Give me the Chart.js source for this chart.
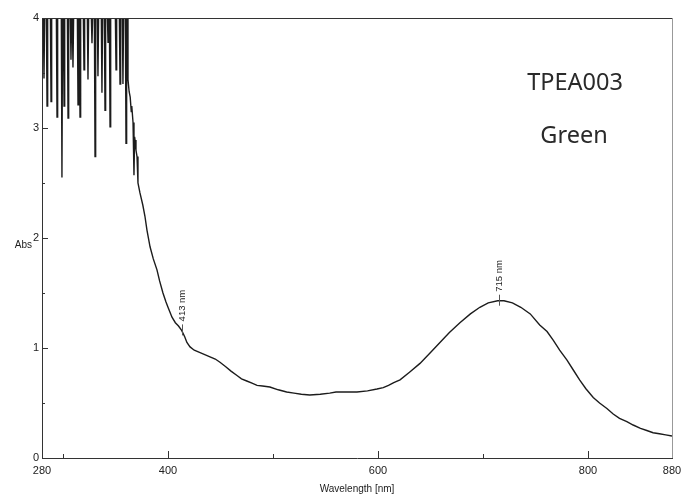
<!DOCTYPE html>
<html>
<head>
<meta charset="utf-8">
<title>TPEA003 Green</title>
<script src="https://cdn.jsdelivr.net/npm/chart.js@4.4.1/dist/chart.umd.min.js"></script>
<style>
  html, body { margin: 0; padding: 0; background: #fff; }
  canvas { display: block; }
</style>
</head>
<body>
<canvas id="specChart" width="683" height="495"></canvas>
<script>
// Absorbance spectrum (wavelength in nm, absorbance)
// 280-362 nm: detector saturated at 4, with dropouts
const wavelengthNm = [
  280, 281.3, 281.9, 282.5, 284.2, 284.8, 285.4, 288.0, 288.6, 289.2,
  293.7, 294.3, 294.9, 298.4, 299.0, 299.6, 300.4, 301.0, 301.6, 304.2,
  304.8, 305.4, 307.0, 307.6, 308.2, 308.9, 309.5, 310.1, 313.7, 314.3,
  314.9, 315.6, 316.2, 316.8, 319.4, 320.0, 320.6, 323.2, 323.8, 324.4,
  327.0, 327.6, 328.2, 329.9, 330.5, 331.1, 332.7, 333.3, 333.9, 336.5,
  337.1, 337.7, 339.4, 340.0, 340.6, 342.3, 342.9, 343.5, 344.2, 344.8,
  345.4, 349.9, 350.5, 351.1, 353.7, 354.3, 354.9, 356.5, 357.1, 357.7,
  359.4, 360.0, 360.6, 361.3, 361.9,
  363, 364, 365, 365.5, 366.7, 367.6, 368.2, 368.6, 369.5, 370.5,
  371.4, 373.3, 376, 378, 380, 382.9, 386, 389.5, 392, 395.2,
  398, 400, 403.8, 407, 410, 413, 416, 418, 421, 425,
  430, 435, 440, 445, 449.5, 455, 460, 465.7, 470, 475,
  480, 484.8, 490, 497, 505, 513, 520, 527, 535, 545,
  554, 560, 570, 580, 590, 599, 605, 610, 615, 621,
  630, 640, 650, 659, 668, 678, 688, 697, 705, 714,
  720, 728, 736, 745, 754, 761, 767, 773, 780, 786,
  792, 798, 805, 811, 818, 824, 830, 837, 843, 850,
  856, 862, 868, 874, 880
];
const absorbance = [
  4, 4, 3.45, 4, 4, 3.2, 4, 4, 3.24, 4,
  4, 3.1, 4, 4, 2.55, 4, 4, 3.2, 4, 4,
  3.09, 4, 4, 3.62, 4, 4, 3.55, 4, 4, 3.21,
  4, 4, 3.1, 4, 4, 3.53, 4, 4, 3.44, 4,
  4, 3.77, 4, 4, 2.74, 4, 4, 3.47, 4, 4,
  3.32, 4, 4, 3.16, 4, 4, 3.78, 4, 4, 3.01,
  4, 4, 3.53, 4, 4, 3.4, 4, 4, 3.4, 4,
  4, 2.86, 4, 4, 3.44,
  3.33, 3.28, 3.15, 3.2, 3.05, 2.57, 2.92, 2.89, 2.8, 2.74,
  2.5, 2.41, 2.3, 2.2, 2.07, 1.92, 1.81, 1.71, 1.61, 1.5,
  1.42, 1.37, 1.28, 1.23, 1.2, 1.16, 1.1, 1.05, 1.01, 0.98,
  0.96, 0.94, 0.92, 0.9, 0.87, 0.83, 0.79, 0.75, 0.72, 0.7,
  0.68, 0.66, 0.655, 0.645, 0.62, 0.6, 0.59, 0.58, 0.573, 0.58,
  0.59, 0.6, 0.6, 0.6, 0.61, 0.627, 0.64, 0.66, 0.685, 0.71,
  0.78, 0.86, 0.96, 1.05, 1.14, 1.23, 1.31, 1.37, 1.41, 1.43,
  1.43, 1.41, 1.37, 1.31, 1.21, 1.15, 1.07, 0.98, 0.89, 0.8,
  0.71, 0.63, 0.55, 0.5, 0.45, 0.4, 0.36, 0.33, 0.3, 0.27,
  0.25, 0.23, 0.22, 0.21, 0.2
];

// x ticks and which of them carry a label
const xTickValues = [280, 300, 400, 500, 600, 700, 800, 880];
const xLabelValues = [280, 400, 600, 800, 880];
const peakMarks = [413, 715];
const sampleLines = ['TPEA003', 'Green'];

const points = wavelengthNm.map((x, i) => ({ x: x, y: absorbance[i] }));

// linear interpolation on the trace, used to place the peak markers
function absAt(nm) {
  for (let i = 1; i < wavelengthNm.length; i++) {
    if (wavelengthNm[i] >= nm) {
      const x0 = wavelengthNm[i - 1], x1 = wavelengthNm[i];
      const t = (nm - x0) / (x1 - x0);
      return absorbance[i - 1] + t * (absorbance[i] - absorbance[i - 1]);
    }
  }
  return absorbance[absorbance.length - 1];
}

const axisColor = '#333';

// frame, inward tick marks, peak markers and side text
const decorPlugin = {
  id: 'decor',
  afterDraw(chart) {
    const ctx = chart.ctx;
    const area = chart.chartArea;
    const xs = chart.scales.x, ys = chart.scales.y;
    ctx.save();

    // top and right frame
    ctx.lineWidth = 1;
    ctx.strokeStyle = axisColor;
    ctx.beginPath();
    ctx.moveTo(area.left, area.top + 0.5);
    ctx.lineTo(area.right, area.top + 0.5);
    ctx.stroke();
    ctx.strokeStyle = '#999';
    ctx.beginPath();
    ctx.moveTo(area.right + 0.5, area.top);
    ctx.lineTo(area.right + 0.5, area.bottom);
    ctx.stroke();

    // inward ticks
    ctx.strokeStyle = axisColor;
    ctx.beginPath();
    xTickValues.forEach(v => {
      if (v === 280 || v === 880) return;
      const px = Math.round(xs.getPixelForValue(v)) + 0.5;
      const len = xLabelValues.includes(v) ? 7 : 4;
      ctx.moveTo(px, area.bottom);
      ctx.lineTo(px, area.bottom - len);
    });
    for (let v = 0.5; v < 4; v += 0.5) {
      const py = Math.round(ys.getPixelForValue(v)) + 0.5;
      const len = Number.isInteger(v) ? 6 : 3;
      ctx.moveTo(area.left, py);
      ctx.lineTo(area.left + len, py);
    }
    ctx.stroke();

    // peak markers
    ctx.strokeStyle = '#555';
    ctx.fillStyle = '#222';
    ctx.font = '9.5px "Liberation Sans", Arial, sans-serif';
    peakMarks.forEach(nm => {
      const px = xs.getPixelForValue(nm);
      const py = ys.getPixelForValue(absAt(nm));
      ctx.beginPath();
      ctx.moveTo(Math.round(px) + 0.5, py - 6);
      ctx.lineTo(Math.round(px) + 0.5, py + 5);
      ctx.stroke();
      ctx.save();
      ctx.translate(px + 1, py - 9);
      ctx.rotate(-Math.PI / 2);
      ctx.textAlign = 'left';
      ctx.textBaseline = 'middle';
      ctx.fillText(nm + ' nm', 0, 0);
      ctx.restore();
    });

    // y axis name
    ctx.font = '10px "Liberation Sans", Arial, sans-serif';
    ctx.textAlign = 'right';
    ctx.textBaseline = 'middle';
    ctx.fillText('Abs', 32, 245);

    // sample name
    ctx.fillStyle = '#2a2a2a';
    ctx.font = '23.5px "Noto Sans", sans-serif';
    ctx.textAlign = 'center';
    ctx.textBaseline = 'alphabetic';
    ctx.fillText(sampleLines[0], 575, 90);
    ctx.fillText(sampleLines[1], 574, 143);

    ctx.restore();
  }
};

const tickFont = { family: '"Liberation Sans", Arial, sans-serif', size: 11 };

new Chart(document.getElementById('specChart').getContext('2d'), {
  type: 'line',
  data: {
    datasets: [{
      data: points,
      borderColor: '#1c1c1c',
      borderWidth: 1.4,
      pointRadius: 0,
      tension: 0,
      fill: false
    }]
  },
  options: {
    responsive: false,
    animation: false,
    devicePixelRatio: 1,
    layout: { padding: { left: 0, right: 11, top: 18, bottom: 0 } },
    plugins: {
      legend: { display: false },
      tooltip: { enabled: false },
      title: {
        display: false
      }
    },
    scales: {
      x: {
        type: 'linear',
        min: 280,
        max: 880,
        afterBuildTicks: scale => {
          scale.ticks = xTickValues.map(v => ({ value: v }));
        },
        afterFit: scale => {
          scale.height = 37;
          // keep the edge labels from pushing the plot area inwards
          scale.paddingLeft = 0;
          scale.paddingRight = 0;
        },
        grid: { display: false, drawTicks: false },
        border: { display: true, color: axisColor, width: 1 },
        ticks: {
          autoSkip: false,
          maxRotation: 0,
          padding: 6,
          color: '#222',
          font: tickFont,
          callback: v => xLabelValues.includes(v) ? String(v) : ''
        },
        title: {
          display: true,
          text: 'Wavelength [nm]',
          color: '#222',
          font: { family: '"Liberation Sans", Arial, sans-serif', size: 10 },
          padding: { top: -3, bottom: 0 }
        }
      },
      y: {
        min: 0,
        max: 4,
        afterFit: scale => {
          scale.width = 42;
          scale.paddingTop = 0;
          scale.paddingBottom = 0;
        },
        grid: { display: false, drawTicks: false },
        border: { display: true, color: axisColor, width: 1 },
        ticks: {
          stepSize: 0.5,
          padding: 3,
          color: '#222',
          font: tickFont,
          callback: v => Number.isInteger(v) ? String(v) : ''
        }
      }
    }
  },
  plugins: [decorPlugin]
});
</script>
</body>
</html>
